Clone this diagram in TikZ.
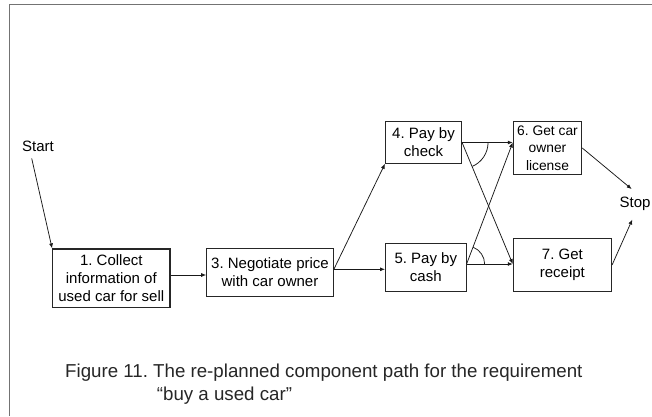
\documentclass[tikz,border=0pt]{standalone}
\usepackage{fontspec}
\setmainfont{Liberation Sans}
\usetikzlibrary{arrows.meta,calc}

\begin{document}
\frenchspacing
\begin{tikzpicture}[x=1pt,y=1pt,
  every node/.style={font=\fontsize{15}{18}\selectfont, inner sep=0pt},
  stepbox/.style={draw=black!85, line width=1.1pt, align=center},
  arr/.style={draw=black!90, line width=0.75pt, -{Latex[length=5pt,width=4pt]}},
  link/.style={draw=black!90, line width=0.75pt},
  frameline/.style={draw=black!55, line width=1.4pt},
  caption/.style={font=\fontsize{18.7}{22}\selectfont, anchor=base west, text=black!85}]

  \useasboundingbox (0,0) rectangle (652,416);

  % outer frame (left and top edges)
  \draw[frameline] (9.3,0) -- (9.3,411.3) -- (652,411.3);

  % steps
  \node[stepbox, minimum width=117.3, minimum height=58.7] (b1) at (111.3,137.7)
    {1. Collect\\information of\\used car for sell};
  \node[stepbox, minimum width=126.6, minimum height=48.4] (b3) at (270,143.5)
    {3. Negotiate price\\with car owner};
  \node[stepbox, minimum width=76, minimum height=41.6] (b4) at (423.5,273.5)
    {4. Pay by\\check};
  \node[stepbox, minimum width=80.5, minimum height=48.4] (b5) at (425.8,148.5)
    {5. Pay by\\cash};
  \node[stepbox, minimum width=68.4, minimum height=52.6,
        font=\fontsize{13.8}{17.5}\selectfont] (b6) at (547.5,268)
    {6. Get car\\owner\\license};
  \node[stepbox, minimum width=98.2, minimum height=53.4] (b7) at (562.4,151)
    {7. Get\\receipt};

  % terminals
  \node[minimum height=23] (start) at (38,269.3) {Start};
  \node[minimum height=30] (stop) at (635,211.7) {Stop};

  % attachment points on the box sides
  \coordinate (p1) at ([yshift=3.3pt]b1.east);
  \coordinate (p3) at ([yshift=3.2pt]b3.east);
  \coordinate (p5) at ([yshift=3.5pt]b5.east);
  \coordinate (q6) at (b6.west |- b4.east);
  \coordinate (q7) at (p5 -| b7.west);

  % connectors
  \draw[arr] ([xshift=-6.3pt]start.south) -- (b1.north west);
  \draw[arr] (p1) -- (p1 -| b3.west);
  \draw[arr] (p3) -- (b4.south west);
  \draw[arr] (p3) -- (p3 -| b5.west);
  \draw[arr] (b4.east) -- (q6);
  \draw[arr] (b4.east) -- (q7);
  \draw[arr] (p5) -- (q6);
  \draw[arr] (p5) -- (q7);
  \draw[arr] (b6.east) -- ([xshift=-3.3pt]stop.north);
  \draw[arr] (b7.east) -- ([xshift=-2.7pt]stop.south);

  % AND arcs joining the outgoing links
  \draw[link] ($(b4.east)+(26,0)$) arc[start angle=0, end angle=-66.6, radius=26];
  \draw[link] ($(p5)+(18,0)$) arc[start angle=0, end angle=68.5, radius=18];

  % caption
  \node[caption] (cap1) at (65,38.3)
    {Figure 11. The re-planned component path for the requirement};
  \node[caption] (cap2) at (156.7,16) {“buy a used car”};
\end{tikzpicture}
\end{document}
